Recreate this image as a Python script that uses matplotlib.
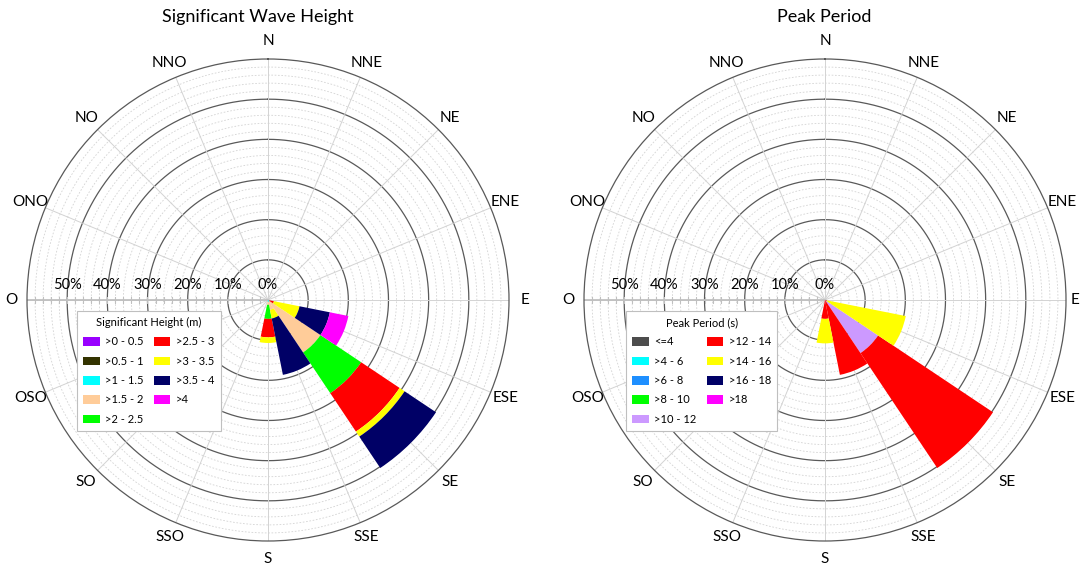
import numpy as np
import matplotlib
matplotlib.use('Agg')
import matplotlib.pyplot as plt
from matplotlib.patches import Patch
from matplotlib.transforms import offset_copy

plt.rcParams['font.family'] = ['Lato', 'DejaVu Sans']

# ---------------- data ----------------
directions = ['N', 'NNE', 'NE', 'ENE', 'E', 'ESE', 'SE', 'SSE',
              'S', 'SSO', 'SO', 'OSO', 'O', 'ONO', 'NO', 'NNO']
sectors = ['ESE', 'SE', 'SSE', 'S']          # sectors with data
r_ticks = [0, 10, 20, 30, 40, 50]

# Significant wave height (% per class, for sectors ESE, SE, SSE, S)
hs_labels = ['>0 - 0.5', '>0.5 - 1', '>1 - 1.5', '>1.5 - 2', '>2 - 2.5',
             '>2.5 - 3', '>3 - 3.5', '>3.5 - 4', '>4']
hs_colors = ['#9900ff', '#333300', '#00ffff', '#ffcc99', '#00ff00',
             '#ff0000', '#ffff00', '#000066', '#ff00ff']
hs_0_05 = [0.0, 0.0, 0.0, 0.0]
hs_05_1 = [0.0, 0.1, 0.0, 0.0]
hs_1_15 = [0.3, 0.4, 0.5, 0.4]
hs_15_2 = [0.0, 15.2, 2.0, 0.8]
hs_2_25 = [0.0, 12.2, 0.0, 3.5]
hs_25_3 = [1.2, 11.5, 0.0, 4.6]
hs_3_35 = [6.5, 1.5, 2.2, 1.4]
hs_35_4 = [7.7, 9.4, 14.3, 0.0]
hs_4 = [4.7, 0.0, 0.0, 0.0]

# Peak period (% per class, for sectors ESE, SE, SSE, S)
tp_labels = ['<=4', '>4 - 6', '>6 - 8', '>8 - 10', '>10 - 12',
             '>12 - 14', '>14 - 16', '>16 - 18', '>18']
tp_colors = ['#4d4d4d', '#00ffff', '#1e8fff', '#00ff00', '#cc99ff',
             '#ff0000', '#ffff00', '#000066', '#ff00ff']
tp_4 = [0.0, 0.0, 0.0, 0.0]
tp_4_6 = [0.0, 0.0, 0.0, 0.0]
tp_6_8 = [0.0, 0.0, 0.0, 0.0]
tp_8_10 = [0.0, 0.0, 0.0, 0.0]
tp_10_12 = [0.0, 15.9, 0.0, 0.0]
tp_12_14 = [0.5, 34.4, 19.0, 4.7]
tp_14_16 = [20.0, 0.0, 0.0, 6.1]
tp_16_18 = [0.0, 0.0, 0.0, 0.0]
tp_18 = [0.0, 0.0, 0.0, 0.0]

hs_values = [hs_0_05, hs_05_1, hs_1_15, hs_15_2, hs_2_25,
             hs_25_3, hs_3_35, hs_35_4, hs_4]
tp_values = [tp_4, tp_4_6, tp_6_8, tp_8_10, tp_10_12,
             tp_12_14, tp_14_16, tp_16_18, tp_18]

# ---------------- figure ----------------
W, H = 1080, 567
fig = plt.figure(figsize=(W / 100, H / 100), dpi=100)
RMAX = 60
RPX = 241


def draw_rose(cx, cy, title, title_x, values, colors, labels, leg_title, leg_xy):
    ax = fig.add_axes([(cx - RPX) / W, (H - cy - RPX) / H, 2 * RPX / W, 2 * RPX / H],
                      projection='polar')
    ax.set_theta_zero_location('N')
    ax.set_theta_direction(-1)
    ax.set_ylim(0, RMAX)
    ax.grid(False)
    ax.set_xticks([])
    ax.set_yticks([])
    ax.spines['polar'].set_color('#595959')
    ax.spines['polar'].set_linewidth(0.9)

    th = np.linspace(0, 2 * np.pi, 721)
    for r in range(2, RMAX, 2):
        if r % 10 == 0:
            ax.plot(th, np.full_like(th, r), color='#595959', lw=0.9, zorder=1)
        else:
            ax.plot(th, np.full_like(th, r), color='#d3d3d3', lw=0.6,
                    ls=(0, (2, 2)), zorder=1)
    for i in range(16):
        a = np.deg2rad(i * 22.5)
        ax.plot([a, a], [0, RMAX], color='#d3d3d3', lw=0.7, zorder=1)

    # radial axis toward O (west)
    west = 1.5 * np.pi
    ax.plot([west, west], [0, RMAX], color='#c0c0c0', lw=1.3, zorder=2)
    ticks_r = np.arange(2, RMAX, 2)
    ax.plot(np.full(len(ticks_r), west), ticks_r, ls='none', marker='|',
            ms=5, mew=0.8, color='#c0c0c0', zorder=2)
    for r in r_ticks:
        ax.text(west, r, f'{r}%', fontsize=10.5, ha='center', va='center',
                transform=offset_copy(ax.transData, fig, x=0, y=15, units='dots'),
                zorder=4)

    # direction labels
    for i, lab in enumerate(directions):
        a = np.deg2rad(i * 22.5)
        d = 16 if abs(np.sin(a)) > 0.3 else 18
        px = cx + (RPX + d) * np.sin(a)
        ha = 'center'
        dx = d * np.sin(a)
        if px + 6 > W:          # keep the label inside the figure
            ha = 'right'
            dx = W - 1 - (cx + RPX * np.sin(a))
        ax.text(a, RMAX, lab, fontsize=11, ha=ha, va='center',
                transform=offset_copy(ax.transData, fig, x=dx,
                                      y=d * np.cos(a), units='dots'),
                clip_on=False)

    # stacked bars
    theta = np.array([np.deg2rad(directions.index(s) * 22.5) for s in sectors])
    bottom = np.zeros(len(sectors))
    for vals, c in zip(values, colors):
        vals = np.asarray(vals, dtype=float)
        ax.bar(theta, vals, width=np.deg2rad(22.5), bottom=bottom, color=c,
               edgecolor='none', linewidth=0, zorder=3)
        bottom += vals

    fig.text(title_x / W, 1 - 17 / H, title, fontsize=13, ha='center', va='center')

    handles = [Patch(facecolor=c, edgecolor='none', label=l)
               for c, l in zip(colors, labels)]
    leg = ax.legend(handles=handles, ncol=2, title=leg_title, loc='upper left',
                    bbox_to_anchor=(leg_xy[0] / W, 1 - leg_xy[1] / H),
                    bbox_transform=fig.transFigure, fontsize=8,
                    title_fontsize=8, frameon=True, fancybox=False,
                    edgecolor='#bfbfbf', framealpha=1, handlelength=1.5,
                    handleheight=0.8, handletextpad=0.5, labelspacing=0.75,
                    columnspacing=0.9, borderpad=0.55, borderaxespad=0)
    leg.get_frame().set_linewidth(0.8)
    leg.set_zorder(10)
    return ax


draw_rose(268, 300, 'Significant Wave Height', 258, hs_values, hs_colors, hs_labels,
          'Significant Height (m)', (77, 311))
draw_rose(825, 300, 'Peak Period', 824, tp_values, tp_colors, tp_labels,
          'Peak Period (s)', (626, 311))

fig.savefig('out.png', dpi=100)
